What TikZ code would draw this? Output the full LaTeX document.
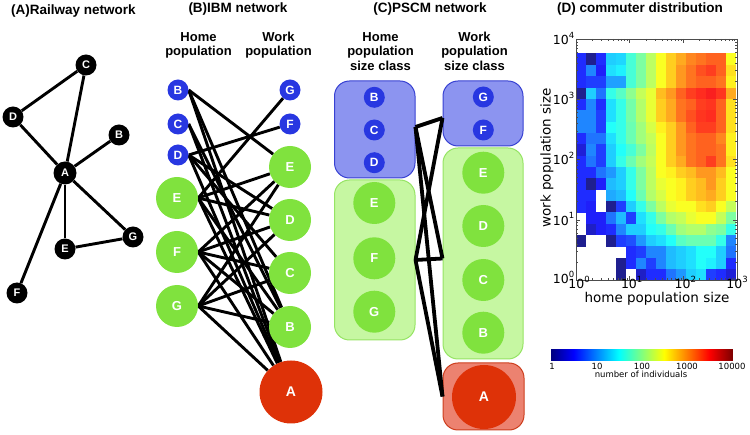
\documentclass[tikz,border=0pt]{standalone}
\usepackage{fontspec}
\setmainfont{Liberation Sans}
\newfontfamily\dvs{DejaVu Sans}
\usetikzlibrary{backgrounds}
\definecolor{nblue}{RGB}{40,55,225}
\definecolor{ngreen}{RGB}{128,226,62}
\definecolor{nred}{RGB}{222,50,8}
\definecolor{bxblue}{RGB}{140,148,240}
\definecolor{bxbluedraw}{RGB}{55,65,210}
\definecolor{bxgreen}{RGB}{198,247,162}
\definecolor{bxgreendraw}{RGB}{150,228,100}
\definecolor{bxred}{RGB}{236,130,112}
\definecolor{bxreddraw}{RGB}{205,62,30}
\newcommand{\setjet}[2]{%
 \pgfmathsetmacro\myjr{max(0,min(1,min(4*#2-1.5,-4*#2+4.5)))}%
 \pgfmathsetmacro\myjg{max(0,min(1,min(4*#2-0.5,-4*#2+3.5)))}%
 \pgfmathsetmacro\myjb{max(0,min(1,min(4*#2+0.5,-4*#2+2.5)))}%
 \definecolor{#1}{rgb}{\myjr,\myjg,\myjb}}
\newcommand{\tenp}[1]{10\raisebox{0.5em}{\fontsize{8.5}{8.5}\selectfont #1}}
\tikzset{
 ttl/.style={font=\bfseries\fontsize{13.5}{15}\selectfont, anchor=base},
 hdr/.style={font=\bfseries\fontsize{13}{15}\selectfont, anchor=base},
 rail/.style={circle, fill=black, text=white, inner sep=0pt, minimum size=21pt, font=\bfseries\fontsize{11}{11}\selectfont},
 smallb/.style={circle, fill=nblue, text=white, inner sep=0pt, minimum size=21pt, font=\bfseries\fontsize{12}{12}\selectfont},
 bigg/.style={circle, fill=ngreen, text=white, inner sep=0pt, minimum size=42pt, font=\bfseries\fontsize{13}{13}\selectfont},
 biga/.style={circle, fill=nred, text=white, inner sep=0pt, minimum size=63pt, font=\bfseries\fontsize{14}{14}\selectfont},
 link/.style={line width=2.9pt, black},
 clink/.style={line width=3.8pt, black},
 classbox/.style={rectangle, rounded corners=15pt, line width=1pt, inner sep=0pt},
 tk/.style={gray!60!black, line width=0.4pt},
 plotlbl/.style={font=\dvs\fontsize{12.5}{12.5}\selectfont},
 axlbl/.style={font=\dvs\fontsize{13.5}{13.5}\selectfont},
 cblbl/.style={font=\dvs\fontsize{8.5}{8.5}\selectfont, anchor=base},
}
\begin{document}
\begin{tikzpicture}[x=1pt,y=-1pt]
\useasboundingbox (0,0) rectangle (750,435);

% ---------------- (A) ----------------
\node[ttl] (tA) at (73.5,15) {(A)Railway network};
\node[rail] (rC) at (86,65) {C};
\node[rail] (rD) at (13,117) {D};
\node[rail] (rB) at (119,135) {B};
\node[rail, minimum size=23pt] (rA) at (65,173) {A};
\node[rail] (rG) at (133,237) {G};
\node[rail] (rE) at (65,249) {E};
\node[rail] (rF) at (17,293) {F};
\begin{scope}[on background layer]
\foreach \a/\b in {rD/rC, rC/rA, rD/rA, rA/rB, rA/rG, rA/rE, rA/rF, rE/rG}
  \draw[link] (\a) -- (\b);
\end{scope}

% ---------------- (B) ----------------
\node[ttl] (tB) at (238,13) {(B)IBM network};
\node[hdr] (hB1) at (198.5,41.5) {Home};
\node[hdr] (hB2) at (198.5,56) {population};
\node[hdr] (wB1) at (278.5,41.5) {Work};
\node[hdr] (wB2) at (278.5,56) {population};

\node[smallb] (hB) at (178,90) {B};
\node[smallb] (hC) at (178,124) {C};
\node[smallb] (hD) at (178,155) {D};
\node[bigg] (hE) at (177,198) {E};
\node[bigg] (hF) at (177,252) {F};
\node[bigg] (hG) at (177,306) {G};
\node[smallb] (wG) at (290,90) {G};
\node[smallb] (wF) at (290,124) {F};
\node[bigg] (wE) at (290,167) {E};
\node[bigg] (wD) at (290,220) {D};
\node[bigg] (wC) at (290,273) {C};
\node[bigg] (wB) at (290,327) {B};
\node[biga] (wA) at (291,392) {A};
\begin{scope}[on background layer]
\foreach \a/\b in {hB/wE, hB/wB, hB/wA, hC/wB, hC/wA, hD/wF, hD/wD, hD/wC, hD/wA,
  hE/wG, hE/wE, hE/wD, hE/wB, hE/wA, hF/wE, hF/wD, hF/wC, hF/wB, hF/wA,
  hG/wE, hG/wD, hG/wC, hG/wB, hG/wA}
  \draw[link] (\a.east) -- (\b);
\end{scope}

% ---------------- (C) ----------------
\node[ttl] (tC) at (430,13) {(C)PSCM network};
\node[hdr] (hC1) at (380.5,41.5) {Home};
\node[hdr] (hC2) at (380.5,56) {population};
\node[hdr] (hC3) at (380.5,70.5) {size class};
\node[hdr] (wC1) at (474.5,41.5) {Work};
\node[hdr] (wC2) at (474.5,56) {population};
\node[hdr] (wC3) at (474.5,70.5) {size class};

\node[classbox, fill=bxblue, draw=bxbluedraw, minimum width=80.5pt, minimum height=97pt] (hbx) at (374.75,129.5) {};
\node[classbox, fill=bxgreen, draw=bxgreendraw, minimum width=80.5pt, minimum height=160pt] (hgx) at (374.75,260) {};
\node[classbox, fill=bxblue, draw=bxbluedraw, minimum width=80pt, minimum height=65pt] (wbx) at (483,113.5) {};
\node[classbox, fill=bxgreen, draw=bxgreendraw, minimum width=80pt, minimum height=211pt] (wgx) at (483,253.5) {};
\node[classbox, fill=bxred, draw=bxreddraw, minimum width=81pt, minimum height=67pt] (rbx) at (483.5,396.5) {};

\node[smallb] (cB) at (374.3,97.3) {B};
\node[smallb] (cC) at (374.3,130) {C};
\node[smallb] (cD) at (374.3,162.7) {D};
\node[bigg] (cE) at (374.3,203) {E};
\node[bigg] (cF) at (374.3,258.3) {F};
\node[bigg] (cG) at (374.3,311.7) {G};
\node[smallb] (kG) at (483.3,97) {G};
\node[smallb] (kF) at (483.3,130) {F};
\node[bigg] (kE) at (483.3,172.7) {E};
\node[bigg] (kD) at (483.3,226) {D};
\node[bigg] (kC) at (483.3,280) {C};
\node[bigg] (kB) at (483.3,332.7) {B};
\node[biga, minimum size=64pt] (kA) at (484,397) {A};

\draw[clink] ([yshift=2.5pt]hbx.east) -- ([yshift=-4.5pt]wbx.west);
\draw[clink] ([yshift=2.5pt]hbx.east) -- ([yshift=-5pt]wgx.west);
\draw[clink] ([yshift=2.5pt]hbx.east) -- (rbx.west);
\draw[clink] (hgx.east) -- ([yshift=-4.5pt]wbx.west);
\draw[clink] (hgx.east) -- ([yshift=-5pt]wgx.west);
\draw[clink] (hgx.east) -- (rbx.west);

% ---------------- (D) ----------------
\node[ttl] (tD) at (640,13) {(D) commuter distribution};
\foreach \rowvals [count=\ri from 0] in {
 {14,0,14,32,33,42,48,55,62,68,72,76,78,80,80,62},
 {14,24,12,34,36,42,48,55,62,68,74,78,82,84,80,66},
 {14,16,16,27,27,42,48,55,62,68,74,78,80,80,78,64},
 {0,32,22,40,44,50,56,60,70,74,80,84,86,88,85,72},
 {14,24,14,34,40,47,54,60,68,72,78,80,84,85,80,66},
 {24,24,16,34,40,47,54,60,68,72,78,82,85,86,80,66},
 {24,24,16,38,40,46,52,58,64,68,74,80,84,84,80,66},
 {14,22,22,34,40,46,52,56,62,68,74,78,80,80,76,64},
 {8,24,16,32,38,42,48,55,62,68,74,78,80,80,78,64},
 {14,22,16,32,40,46,52,56,62,68,72,78,80,84,78,66},
 {14,14,22,26,32,40,48,55,62,64,68,70,74,74,70,62},
 {14,0,12,30,32,40,48,55,60,62,64,68,70,74,68,62},
 {14,14,-1,28,30,38,46,54,58,62,64,68,70,72,68,62},
 {14,12,-1,0,16,32,40,48,55,60,62,62,66,68,62,56},
 {-1,12,12,22,30,16,34,40,48,54,56,60,62,62,56,48},
 {-1,6,12,14,24,32,32,38,40,46,52,54,54,50,48,40},
 {0,-1,-1,0,16,18,26,32,34,38,44,46,46,46,40,24},
 {-1,-1,-1,-1,-1,14,16,24,24,30,32,34,38,38,32,22},
 {-1,-1,-1,-1,0,14,24,16,24,30,32,34,38,36,32,14},
 {-1,-1,-1,-1,0,-1,6,14,14,22,26,32,34,16,14,8}} {
  \foreach \v [count=\ci from 0] in \rowvals {
    \ifnum\v<0\relax\else
      \setjet{hc}{\v/100}%
      \fill[hc!88!white] (576+10*\ci,53.5+11.35*\ri) rectangle ++(10.15,11.5);
    \fi
  }
}
\draw[tk] (576,39) rectangle (737,280);
\foreach \k in {0,...,3} {
  \draw[tk] (576+53.67*\k,280) -- ++(0,-4);
  \draw[tk] (576+53.67*\k,39) -- ++(0,4);
}
\foreach \k in {0,1,2} \foreach \m in {2,...,9} {
  \draw[tk] ({576+53.67*(\k+ln(\m)/ln(10))},280) -- ++(0,-2);
  \draw[tk] ({576+53.67*(\k+ln(\m)/ln(10))},39) -- ++(0,2);
}
\foreach \k in {0,...,4} {
  \draw[tk] (576,280-60.25*\k) -- ++(4,0);
  \draw[tk] (737,280-60.25*\k) -- ++(-4,0);
}
\foreach \k in {0,...,3} \foreach \m in {2,...,9} {
  \draw[tk] (576,{280-60.25*(\k+ln(\m)/ln(10))}) -- ++(2,0);
  \draw[tk] (737,{280-60.25*(\k+ln(\m)/ln(10))}) -- ++(-2,0);
}
\foreach \k/\yy in {0/278,1/219.75,2/159.5,3/99.25,4/39}
  \node[plotlbl, anchor=base east, inner sep=0pt] (yl\k) at (574.5,\yy+5.5) {\tenp{\k}};
\foreach \k/\xx in {0/579,1/631.67,2/685.33,3/737}
  \node[plotlbl, anchor=base, inner sep=0pt] (xl\k) at (\xx,289) {\tenp{\k}};
\node[axlbl, rotate=90] (ylab) at (547,158) {work population size};
\node[axlbl, anchor=base] (xlab) at (657,303) {home population size};

% colorbar
\foreach \i in {0,...,181} {
  \setjet{cbc}{\i/181}%
  \fill[cbc] (550.7+\i,349) rectangle ++(1.2,12);
}
\foreach \t/\xx in {1/552,10/597,100/642,1000/687,10000/732}
  \node[cblbl] (cb\t) at (\xx,369.5) {\t};
\node[cblbl] (cbt) at (641,377.5) {number of individuals};
\end{tikzpicture}
\end{document}
